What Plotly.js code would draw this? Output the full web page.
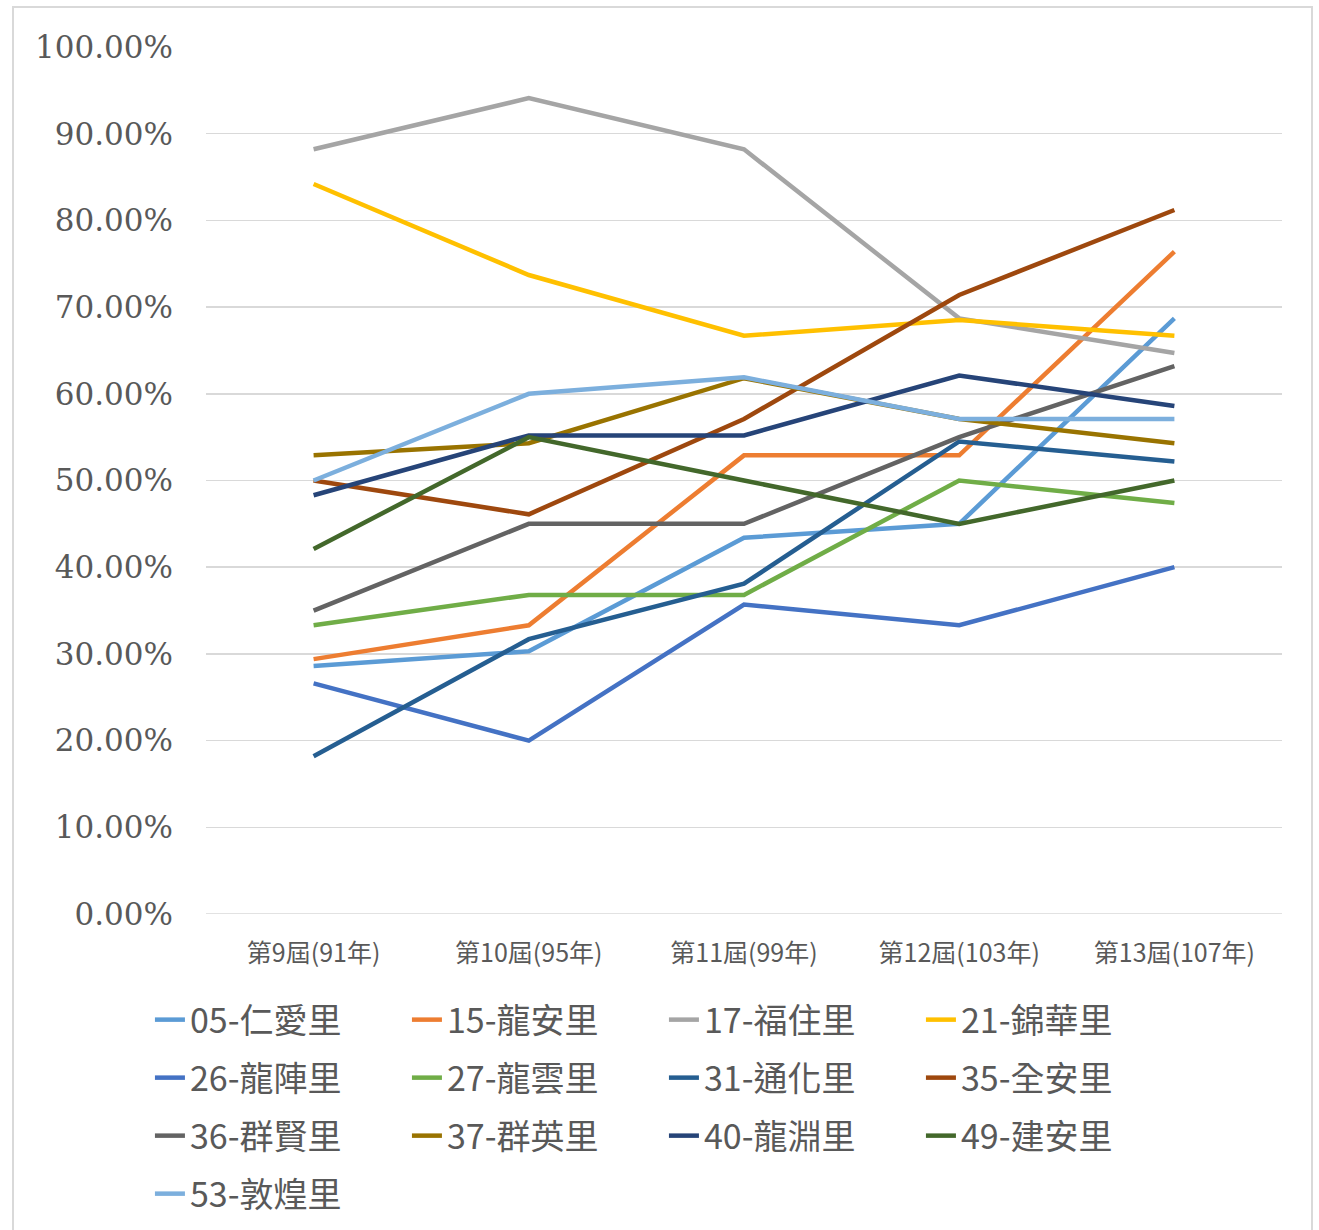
<!DOCTYPE html>
<html>
<head>
<meta charset="utf-8">
<script src="https://cdn.plot.ly/plotly-3.0.1.min.js"></script>
<style>
  html, body { margin: 0; padding: 0; background: #ffffff; }
  #frame { position: absolute; left: 12px; top: 6px; width: 1301px; height: 1240px; border: 2px solid #d9d9d9; box-sizing: border-box; }
  #chart { position: absolute; left: 12px; top: 6px; width: 1300px; height: 1240px; }
</style>
</head>
<body>
<div id="frame"></div>
<div id="chart"></div>
<script>
// Categories (election terms)
const categories = ["第9屆(91年)", "第10屆(95年)", "第11屆(99年)", "第12屆(103年)", "第13屆(107年)"];

// Series names
const seriesNames = ["05-仁愛里", "15-龍安里", "17-福住里", "21-錦華里", "26-龍陣里", "27-龍雲里", "31-通化里", "35-全安里", "36-群賢里", "37-群英里", "40-龍淵里", "49-建安里", "53-敦煌里"];

// Series values (percent)
const v05 = [28.6, 30.3, 43.4, 45.0, 68.7];
const v15 = [29.4, 33.3, 52.9, 52.9, 76.4];
const v17 = [88.2, 94.1, 88.2, 68.7, 64.7];
const v21 = [84.2, 73.7, 66.7, 68.5, 66.7];
const v26 = [26.6, 20.0, 35.7, 33.3, 40.0];
const v27 = [33.3, 36.8, 36.8, 50.0, 47.4];
const v31 = [18.2, 31.7, 38.1, 54.5, 52.2];
const v35 = [50.0, 46.1, 57.1, 71.4, 81.2];
const v36 = [35.0, 45.0, 45.0, 55.0, 63.2];
const v37 = [52.9, 54.3, 61.8, 57.1, 54.3];
const v40 = [48.3, 55.2, 55.2, 62.1, 58.6];
const v49 = [42.1, 55.0, 50.0, 45.0, 50.0];
const v53 = [50.0, 60.0, 61.9, 57.1, 57.1];

const seriesValues = [v05, v15, v17, v21, v26, v27, v31, v35, v36, v37, v40, v49, v53];
const seriesColors = ["#5B9BD5", "#ED7D31", "#A5A5A5", "#FFC000", "#4472C4", "#70AD47", "#255E91", "#9E480E", "#636363", "#997300", "#264478", "#43682B", "#7CAFDD"];

const legendIds = ["legend", "legend2", "legend3", "legend4"];

const traces = seriesNames.map((name, i) => ({
  type: "scatter",
  mode: "lines",
  name: name,
  legend: legendIds[Math.floor(i / 4)],
  x: categories,
  y: seriesValues[i].map(v => v / 100),
  line: { color: seriesColors[i], width: 4.5 },
  hoverinfo: "x+y+name"
}));

const legendFont = { family: "Noto Sans CJK TC, sans-serif", size: 34, color: "#595959" };
const rowY = [-0.1223, -0.1892, -0.2561, -0.3230];
function makeLegend(y) {
  return {
    orientation: "h",
    x: -0.0521,
    xanchor: "left",
    y: y,
    yanchor: "middle",
    entrywidth: 212,
    entrywidthmode: "pixels",
    itemwidth: 30,
    font: legendFont,
    bgcolor: "rgba(0,0,0,0)"
  };
}

const layout = {
  width: 1300,
  height: 1240,
  margin: { l: 194, r: 30, t: 41, b: 332 },
  paper_bgcolor: "rgba(0,0,0,0)",
  plot_bgcolor: "#ffffff",
  showlegend: true,
  xaxis: {
    type: "category",
    range: [-0.5, 4.5],
    showgrid: false,
    showline: false,
    zeroline: false,
    ticks: "",
    ticklen: 0,
    ticklabelstandoff: 22,
    tickfont: { family: "Noto Sans CJK TC, Liberation Serif, serif", size: 25, color: "#595959" },
    automargin: false
  },
  yaxis: {
    range: [0, 1],
    dtick: 0.1,
    tick0: 0,
    tickformat: ".2%",
    showgrid: true,
    gridcolor: "#d9d9d9",
    gridwidth: 1.5,
    zeroline: false,
    showline: false,
    ticks: "",
    ticklabelstandoff: 32,
    tickfont: { family: "DejaVu Serif, Liberation Serif, serif", size: 31, color: "#595959" },
    automargin: false
  },
  shapes: [{
    type: "line", xref: "paper", yref: "y", x0: 0, x1: 1, y0: 0, y1: 0,
    line: { color: "#d9d9d9", width: 1.5 }, layer: "below"
  }],
  legend: makeLegend(rowY[0]),
  legend2: makeLegend(rowY[1]),
  legend3: makeLegend(rowY[2]),
  legend4: makeLegend(rowY[3])
};

Plotly.newPlot("chart", traces, layout, { displayModeBar: false, staticPlot: true });
</script>
</body>
</html>
